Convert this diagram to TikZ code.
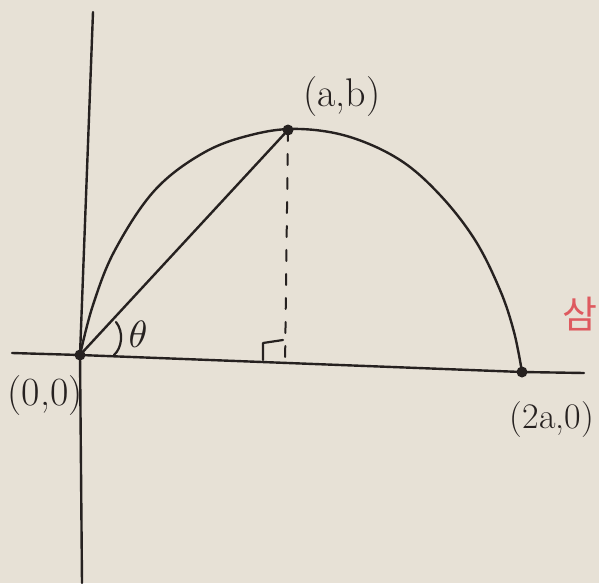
\documentclass[tikz,border=0pt]{standalone}
\usepackage{graphicx}
\usepackage{fontspec}
\newfontfamily\kofont{Noto Sans CJK KR}
\begin{document}
\begin{tikzpicture}[x=1pt,y=-1pt,
  pen/.style={draw=ink,line width=2.4pt,line cap=round,line join=round},
  dotmark/.style={circle,fill=ink,inner sep=0pt,minimum size=11pt},
  lbl/.style={text=ink,inner sep=0pt,font=\fontsize{40}{40}\selectfont}]
\definecolor{paper}{RGB}{231,225,214}
\definecolor{ink}{RGB}{38,33,32}
\definecolor{redink}{RGB}{222,90,95}
\useasboundingbox (0,0) rectangle (599,583);
\clip (0,0) rectangle (599,583);
\fill[paper] (0,0) rectangle (599,583);
% key points
\coordinate (yt) at (93,12);
\coordinate (yb) at (82,583);
\coordinate (xl) at (12,353);
\coordinate (xr) at (584,373);
\coordinate (foot) at (285,367);
\node[dotmark] (O) at (80,355) {};
\node[dotmark] (P) at (288,130) {};
\node[dotmark] (Q) at (522,372) {};
% axes
\draw[pen] (yt) -- (O.center) -- (yb);
\draw[pen] (xl) -- (O.center) -- (Q.center) -- (xr);
% arch
\draw[pen] plot[smooth,tension=0.6] coordinates {(80,355) (93,305) (115,250) (155,190) (205,152) (255,134) (300,129) (350,137) (400,160) (440,195) (475,240) (500,290) (514,332) (522,372)};
% chord
\draw[pen] (O.center) -- (P.center);
% dashed height
\draw[pen,line width=2pt,dash pattern=on 11pt off 13pt] (P.center) -- (foot);
% right angle mark
\coordinate (ra1) at (263,360);
\coordinate (ra2) at (263,343);
\coordinate (ra3) at (283,340);
\draw[pen,line width=2.2pt] (ra1) -- (ra2) -- (ra3);
% angle arc
\coordinate (a1) at (116,322);
\coordinate (a2) at (114,355);
\draw[pen,line width=2.2pt] (a1) .. controls (124,332) and (122,348) .. (a2);
\node[text=ink,inner sep=0pt] (theta) at (138,334) {\scalebox{3.8}{$\theta$}};
% labels
\node[lbl] (lO) at (45,396) {(0,0)};
\node[lbl] (lP) at (342,97) {(a,b)};
\node[lbl,font=\fontsize{36}{36}\selectfont] (lQ) at (552,420) {(2a,0)};
\node[text=redink,inner sep=0pt,font=\kofont\fontsize{38}{38}\selectfont] (kr) at (580,314) {삼};
\end{tikzpicture}
\end{document}
